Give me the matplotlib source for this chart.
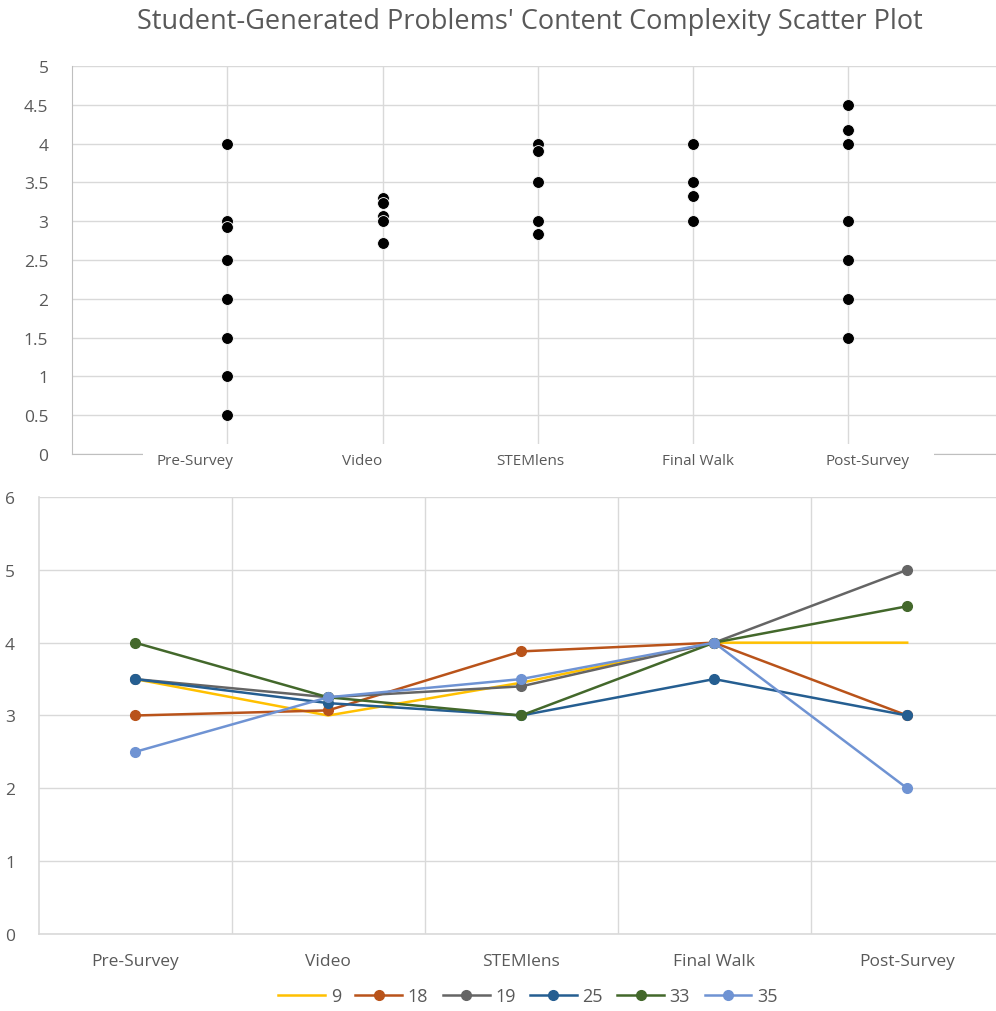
import matplotlib.pyplot as plt
from matplotlib.patches import Rectangle
from matplotlib.transforms import blended_transform_factory

plt.rcParams['font.family'] = ['Open Sans', 'DejaVu Sans']

stages = ['Pre-Survey', 'Video', 'STEMlens', 'Final Walk', 'Post-Survey']

# content complexity of every student problem, per stage (scatter)
pre_scores = [4.0, 3.0, 2.92, 2.5, 2.0, 1.5, 1.0, 0.5]
video_scores = [3.3, 3.23, 3.07, 3.0, 2.72]
stemlens_scores = [4.0, 3.9, 3.5, 3.0, 2.84]
final_walk_scores = [4.0, 3.5, 3.33, 3.0]
post_scores = [4.5, 4.17, 4.0, 3.0, 2.5, 2.0, 1.5]
stage_scores = [pre_scores, video_scores, stemlens_scores, final_walk_scores, post_scores]

# where the stage names sit along the scatter x axis
stage_label_x = [0.79, 1.87, 2.95, 4.03, 5.12]

# per-student averages (line chart)
student_ids = ['9', '18', '19', '25', '33', '35']
s9 = [3.5, 3.0, 3.45, 4.0, 4.0]
s18 = [3.0, 3.07, 3.88, 4.0, 3.0]
s19 = [3.5, 3.25, 3.4, 4.0, 5.0]
s25 = [3.5, 3.17, 3.0, 3.5, 3.0]
s33 = [4.0, 3.25, 3.0, 4.0, 4.5]
s35 = [2.5, 3.25, 3.5, 4.0, 2.0]
student_series = [s9, s18, s19, s25, s33, s35]
colors = ['#FFC000', '#B9531A', '#656565', '#255E91', '#43682B', '#6F93D3']
has_markers = [False, True, True, True, True, True]

grid_c = '#d9d9d9'
text_c = '#595959'

fig = plt.figure(figsize=(9.96, 10.12), dpi=100)

# ---- top: scatter plot ----
ax1 = fig.add_axes([0.0723, 0.5504, 0.9277, 0.3834])
for i, scores in enumerate(stage_scores):
    ax1.scatter([i + 1] * len(scores), scores, s=72, color='black',
                edgecolors='white', linewidths=0.6, zorder=4)
ax1.vlines(range(1, len(stages) + 1), 0, 5, color=grid_c, lw=1, zorder=1)
ax1.set_xlim(0, 5.95)
ax1.set_ylim(0, 5)
ax1.set_yticks([0, 0.5, 1, 1.5, 2, 2.5, 3, 3.5, 4, 4.5, 5])
ax1.set_yticklabels(['0', '0.5', '1', '1.5', '2', '2.5', '3', '3.5', '4', '4.5', '5'])
ax1.set_xticks([])
ax1.yaxis.grid(True, color=grid_c, lw=1)
ax1.set_axisbelow(True)
ax1.tick_params(axis='y', length=0, pad=17, labelsize=12.5, labelcolor=text_c)
for side in ['top', 'right']:
    ax1.spines[side].set_visible(False)
for side in ['left', 'bottom']:
    ax1.spines[side].set_color('#bfbfbf')
# white band behind the stage names hides the axis line there
ax1.add_patch(Rectangle((0.0768, -0.044), 0.856, 0.070, transform=ax1.transAxes,
                        facecolor='white', edgecolor='none', zorder=3, clip_on=False))
trans = blended_transform_factory(ax1.transData, ax1.transAxes)
for x, name in zip(stage_label_x, stages):
    ax1.text(x, -0.016, name, transform=trans, ha='center', va='center',
             fontsize=11, color=text_c, zorder=5)
ax1.set_title("Student-Generated Problems' Content Complexity Scatter Plot",
              fontsize=19.5, color=text_c, pad=27, x=0.495)

# ---- bottom: line chart per student ----
ax2 = fig.add_axes([0.0387, 0.0761, 0.9613, 0.4318])
xs = range(len(stages))
for sid, vals, c, mk in zip(student_ids, student_series, colors, has_markers):
    ax2.plot(xs, vals, color=c, lw=1.8, marker='o' if mk else None,
             markersize=7, label=sid)
ax2.set_xlim(-0.5, 4.46)
ax2.set_ylim(0, 6)
ax2.set_xticks(list(xs))
ax2.set_xticklabels(stages)
ax2.set_xticks([0.5, 1.5, 2.5, 3.5], minor=True)
ax2.xaxis.grid(True, which='minor', color=grid_c, lw=1)
ax2.yaxis.grid(True, color=grid_c, lw=1)
ax2.set_axisbelow(True)
ax2.tick_params(axis='both', which='both', length=0, labelsize=12.5, labelcolor=text_c)
ax2.tick_params(axis='x', pad=14)
ax2.tick_params(axis='y', pad=17)
for side in ['top', 'right']:
    ax2.spines[side].set_visible(False)
for side in ['left', 'bottom']:
    ax2.spines[side].set_color(grid_c)
    ax2.spines[side].set_linewidth(1.2)

fig.legend(loc='center', bbox_to_anchor=(0.53, 0.015), ncol=6, frameon=False,
           fontsize=13, handlelength=2.6, columnspacing=0.8, handletextpad=0.3,
           labelcolor=text_c)

fig.savefig('out.png', dpi=100)
